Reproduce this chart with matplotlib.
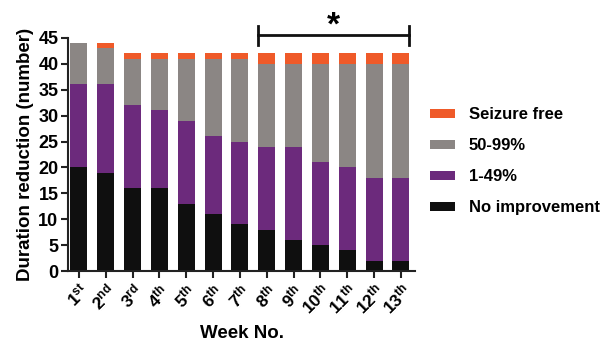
import matplotlib
matplotlib.use("Agg")
import matplotlib.pyplot as plt
from matplotlib.patches import Patch

plt.rcParams['font.family'] = ['Liberation Sans', 'DejaVu Sans']
plt.rcParams['mathtext.fontset'] = 'custom'
plt.rcParams['mathtext.rm'] = 'Liberation Sans:bold'
plt.rcParams['mathtext.bf'] = 'Liberation Sans:bold'
plt.rcParams['mathtext.it'] = 'Liberation Sans:bold'

weeks = ["1", "2", "3", "4", "5", "6", "7", "8", "9", "10", "11", "12", "13"]
suffixes = ["st", "nd", "rd", "th", "th", "th", "th", "th", "th", "th", "th", "th", "th"]
no_improvement = [20, 19, 16, 16, 13, 11, 9, 8, 6, 5, 4, 2, 2]
pct_1_49 = [16, 17, 16, 15, 16, 15, 16, 16, 18, 16, 16, 16, 16]
pct_50_99 = [8, 7, 9, 10, 12, 15, 16, 16, 16, 19, 20, 22, 22]
seizure_free = [0, 1, 1, 1, 1, 1, 1, 2, 2, 2, 2, 2, 2]

series = [
    ("No improvement", no_improvement, "#0f0f0f"),
    ("1-49%", pct_1_49, "#6c2a7c"),
    ("50-99%", pct_50_99, "#8b8684"),
    ("Seizure free", seizure_free, "#ef5a29"),
]

fig = plt.figure(figsize=(6.03, 3.41), dpi=100)
ax = fig.add_axes([0.113, 0.205, 0.575, 0.684])

x = list(range(len(weeks)))
bottom = [0] * len(weeks)
for name, vals, col in series:
    ax.bar(x, vals, width=0.63, bottom=bottom, color=col, edgecolor='none')
    bottom = [b + v for b, v in zip(bottom, vals)]

ax.set_xlim(-0.4, 12.52)
ax.set_ylim(0, 45)
ax.set_yticks(range(0, 46, 5))
ax.set_xticks(x)
ax.set_xticklabels([r"$\mathbf{%s^{%s}}$" % (w, s) for w, s in zip(weeks, suffixes)],
                   rotation=45, ha='right', rotation_mode='anchor', fontsize=12.5)
for lab in ax.get_yticklabels():
    lab.set_fontweight('bold')
    lab.set_fontsize(13)

for s in ['top', 'right']:
    ax.spines[s].set_visible(False)
for s in ['left', 'bottom']:
    ax.spines[s].set_linewidth(1.5)
    ax.spines[s].set_color('#222222')
ax.tick_params(axis='both', width=1.5, length=5, color='#222222', pad=2)

ax.set_ylabel("Duration reduction (number)", fontsize=13.5, fontweight='bold', labelpad=3)
ax.set_xlabel("Week No.", fontsize=13.5, fontweight='bold')
ax.xaxis.set_label_coords(0.5, -0.232)

# significance bracket
x0, x1 = 7 - 0.315, 12 + 0.315
ax.plot([x0, x1], [45.5, 45.5], color='#111111', lw=2, clip_on=False)
ax.plot([x0, x0], [43.6, 47.2], color='#111111', lw=2, clip_on=False)
ax.plot([x1, x1], [43.6, 47.2], color='#111111', lw=2, clip_on=False)
ax.text((x0 + x1) / 2, 47.3, "*", ha='center', va='center', fontsize=24,
        fontweight='bold', clip_on=False)

handles = [Patch(facecolor=c, edgecolor='none', label=n) for n, _, c in reversed(series)]
leg = ax.legend(handles=handles, loc='upper left', bbox_to_anchor=(1.0, 0.768),
                frameon=False, prop={'weight': 'bold', 'size': 12},
                handlelength=1.5, handleheight=0.45, labelspacing=0.97, handletextpad=0.85)

fig.savefig("out.png", dpi=100)
